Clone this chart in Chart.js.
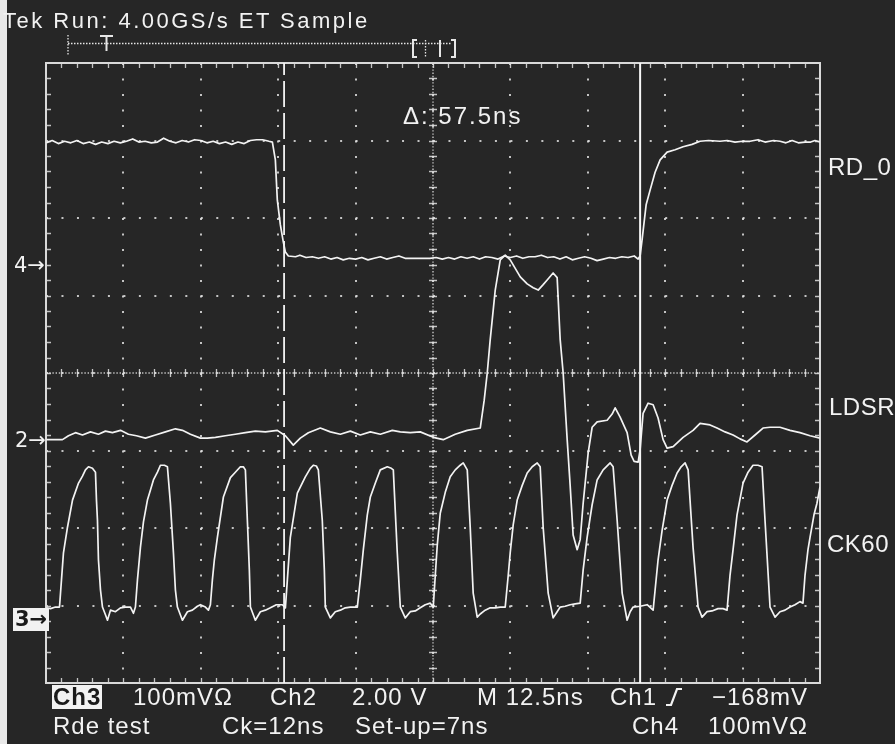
<!DOCTYPE html>
<html><head><meta charset="utf-8">
<script src="https://cdn.jsdelivr.net/npm/chart.js@4.4.1/dist/chart.umd.min.js"></script>
<style>
html,body{margin:0;padding:0;background:#262626;}
#wrap{position:relative;width:895px;height:744px;overflow:hidden;background:#262626;font-family:"Liberation Sans",Arial,sans-serif;color:#f2f2f2;}
#c{position:absolute;left:0;top:0;}
.t{position:absolute;white-space:pre;line-height:1;font-size:24px;letter-spacing:1px;}
.hdr{font-size:22px;letter-spacing:2.5px;}
.inv{background:#f2f2f2;color:#1a1a1a;font-weight:bold;padding:0 1px;height:24px;}
.mk{position:absolute;white-space:pre;line-height:1;font-size:21px;font-family:"DejaVu Sans","Liberation Sans",sans-serif;}
#strip{position:absolute;left:0;top:0;width:7px;height:744px;background:#e9e9e9;}
</style></head>
<body>
<div id="wrap">
<canvas id="c" width="895" height="744"></canvas>
<div id="strip"></div>
<div class="t hdr" style="left:3px;top:10px;">Tek Run: 4.00GS/s ET Sample</div>
<div class="t" style="left:403px;top:104px;letter-spacing:2px;">Δ: 57.5ns</div>
<div class="t" style="left:828px;top:155px;letter-spacing:0.5px;">RD_0</div>
<div class="t" style="left:829px;top:395px;letter-spacing:0.5px;">LDSR</div>
<div class="t" style="left:827px;top:532px;letter-spacing:0.5px;">CK60</div>
<div class="mk" style="left:14px;top:255px;">4→</div>
<div class="mk" style="left:15px;top:430px;">2→</div>
<div class="mk" style="left:13px;top:608px;background:#f2f2f2;color:#1a1a1a;padding:1px 2px;font-weight:bold;">3→</div>
<div class="t inv" style="left:52px;top:685px;">Ch3</div>
<div class="t" style="left:133px;top:685px;">100mVΩ</div>
<div class="t" style="left:270px;top:685px;">Ch2</div>
<div class="t" style="left:352px;top:685px;">2.00 V</div>
<div class="t" style="left:477px;top:685px;">M 12.5ns</div>
<div class="t" style="left:610px;top:685px;">Ch1</div>
<svg style="position:absolute;left:664px;top:686px;" width="20" height="22"><polyline points="2,19 7,19 13,3 18,3" fill="none" stroke="#f2f2f2" stroke-width="2.2"/></svg>
<div class="t" style="left:712px;top:685px;">−168mV</div>
<div class="t" style="left:53px;top:714px;">Rde test</div>
<div class="t" style="left:222px;top:714px;">Ck=12ns</div>
<div class="t" style="left:355px;top:714px;">Set-up=7ns</div>
<div class="t" style="left:632px;top:714px;">Ch4</div>
<div class="t" style="left:708px;top:714px;">100mVΩ</div>
</div>
<script>
// ---- data (time in ns, level in screen divisions) ----
const timeRange = [0, 125];          // 10 div x 12.5 ns
const divRange = [-4, 4];            // 8 vertical divisions
const timeStep = 12.5;
const centerTime = 62.5;
const cursorTimes = [38.45, 95.95];  // Δ = 57.5 ns

const rdTime = [0.08,1,2,3,4,5,6,7,8,9,10,11,12,13,14,15,16,17,18,19,20,21,22,23,24,25,26,27,28,29,30,31,32,33,34,35,36,36.56,
37.04,37.36,37.85,38.33,38.66,39.14,
40.3,41,42,43,44,45,46,47,48,49,50,51,52,53,54,55,56,57,58,59,60,61,62,63,64,65,66,67,68,69,70,71,72,73,74,75,76,77,78,79,80,81,82,83,84,85,86,87,88,89,90,91,92,93,94,95,95.63,
95.95,96.27,96.60,96.92,97.56,98.37,99.18,100.31,101.60,102.89,104.34,
105.63,107,108.86,110,111.28,112.5,113.70,115,116.12,117.5,118.54,119.5,120.5,121.5,122.58,123.5,124.19,125];
const rdLevel = [2.97,3.00,2.96,2.99,2.97,3.00,2.96,2.98,2.95,2.98,2.96,2.99,2.97,2.99,3.02,2.98,2.99,2.97,2.98,3.03,2.99,2.97,3.00,2.98,3.01,3.00,2.97,2.99,2.96,2.98,2.95,2.98,2.96,3.00,3.01,3.01,2.99,2.98,
2.75,2.23,1.91,1.69,1.56,1.51,
1.50,1.52,1.49,1.50,1.48,1.50,1.47,1.49,1.46,1.48,1.47,1.49,1.46,1.48,1.50,1.47,1.49,1.51,1.48,1.48,1.48,1.48,1.48,1.49,1.47,1.49,1.47,1.50,1.48,1.50,1.47,1.50,1.49,1.47,1.51,1.49,1.51,1.48,1.50,1.50,1.52,1.49,1.50,1.47,1.50,1.46,1.48,1.50,1.48,1.45,1.47,1.49,1.48,1.50,1.49,1.51,1.47,
1.51,1.72,1.95,2.17,2.36,2.59,2.75,2.85,2.88,2.92,2.95,
2.99,3.00,2.99,3.00,2.98,2.99,2.99,3.01,2.98,3.00,2.99,2.97,3.00,2.97,2.98,2.98,3.00,2.98];

const ldsrTime = [0.08,1.53,2.66,3.63,4.76,5.89,7.18,8.47,9.60,10.73,12.03,13.31,14.61,16.06,17.67,19.29,20.90,22.03,23.32,24.94,26.06,27.36,28.97,30.58,32.20,33.81,35.43,37.36,38.66,39.94,41.07,42.37,44.30,45.92,47.53,49.15,50.76,52.38,53.99,55.93,57.22,58.83,60.44,62.54,64.15,66.09,68.03,70.13,70.77,71.26,71.74,72.55,73.36,74.16,74.97,75.78,76.59,77.71,78.68,79.49,80.29,80.94,81.90,82.55,83.04,83.52,84.17,84.65,85.13,85.78,86.27,86.75,87.56,88.20,89.01,90.62,91.43,91.92,92.72,93.85,94.50,94.98,95.63,95.95,96.43,97.24,98.05,98.85,99.66,100.31,101.28,102.89,104.50,105.63,107.24,108.37,109.67,110.96,112.09,113.21,114.51,115.80,116.93,118.54,120.16,121.77,123.39,125.00];
const ldsrLevel = [-0.86,-0.86,-0.86,-0.81,-0.77,-0.80,-0.76,-0.79,-0.75,-0.77,-0.74,-0.79,-0.81,-0.84,-0.80,-0.76,-0.72,-0.74,-0.79,-0.84,-0.84,-0.83,-0.81,-0.79,-0.77,-0.75,-0.76,-0.74,-0.81,-0.93,-0.84,-0.77,-0.71,-0.76,-0.79,-0.75,-0.80,-0.76,-0.79,-0.74,-0.76,-0.77,-0.76,-0.83,-0.86,-0.79,-0.74,-0.71,-0.35,0.00,0.43,1.07,1.46,1.52,1.46,1.35,1.24,1.15,1.10,1.07,1.14,1.20,1.29,1.23,0.43,0.00,-0.86,-1.45,-2.09,-2.28,-2.15,-1.68,-1.03,-0.70,-0.63,-0.61,-0.53,-0.45,-0.57,-0.77,-1.06,-1.14,-1.15,-0.99,-0.52,-0.39,-0.41,-0.58,-0.86,-0.97,-0.95,-0.83,-0.74,-0.65,-0.67,-0.71,-0.76,-0.80,-0.85,-0.89,-0.80,-0.71,-0.70,-0.70,-0.74,-0.77,-0.81,-0.84];

const ckTime = [0.08,0.73,1.53,2.18,
2.50,2.82,3.47,4.28,5.25,5.89,6.37,6.86,7.50,7.99,8.15,8.31,8.47,8.80,9.12,9.60,9.93,10.41,11.22,12.03,12.83,13.64,14.12,14.44,
14.77,15.25,15.74,16.38,16.87,17.35,18.00,18.48,19.12,19.61,20.09,20.58,20.90,21.22,22.03,22.84,23.64,24.45,24.94,25.74,26.23,26.55,
26.87,27.19,27.68,28.65,29.78,30.58,31.39,31.87,32.20,32.52,32.84,33.01,33.81,34.62,35.43,36.24,37.20,38.17,38.66,
38.98,39.46,40.59,41.88,42.69,43.17,43.66,43.98,44.62,44.95,45.11,45.92,46.72,47.53,48.34,49.15,50.28,
50.76,51.25,51.89,52.38,53.19,53.99,55.12,55.77,56.09,56.73,57.22,58.02,58.83,59.64,60.44,61.25,62.06,62.54,
62.87,63.19,63.67,64.48,65.28,66.09,66.90,67.38,68.03,68.51,68.99,69.64,70.13,70.93,71.74,72.55,73.36,74.16,
74.65,74.97,75.45,76.10,76.91,77.71,78.52,79.33,79.81,80.29,81.10,81.90,82.55,83.04,83.84,84.65,85.46,86.27,
86.75,87.39,88.20,89.01,89.98,91.11,91.59,92.24,93.05,93.85,94.34,94.82,95.95,97.08,98.05,98.37,
98.85,99.50,100.31,101.11,101.92,102.57,103.21,103.70,104.50,105.31,105.95,106.76,107.56,108.53,109.34,109.99,
110.47,110.96,111.60,112.57,113.38,114.18,114.99,115.64,116.12,116.93,117.74,118.54,119.35,120.16,120.96,121.77,122.25,
122.58,123.06,123.39,124.03,124.51,125.00];
const ckLevel = [-3.03,-3.04,-3.02,-3.02,
-2.67,-2.32,-1.99,-1.64,-1.42,-1.33,-1.25,-1.21,-1.23,-1.28,-1.64,-1.90,-2.41,-2.80,-3.02,-3.12,-3.19,-3.06,-3.08,-3.03,-3.02,-3.02,-3.10,-3.02,
-2.67,-2.25,-1.92,-1.64,-1.51,-1.38,-1.28,-1.19,-1.19,-1.21,-1.68,-2.32,-2.80,-3.02,-3.19,-3.08,-3.06,-3.01,-2.99,-3.02,-3.06,-2.99,
-2.67,-2.41,-2.12,-1.60,-1.35,-1.28,-1.21,-1.21,-1.25,-1.90,-2.54,-3.02,-3.19,-3.08,-3.06,-3.03,-2.99,-2.99,-3.03,
-2.67,-2.12,-1.55,-1.34,-1.23,-1.19,-1.20,-1.25,-1.90,-2.54,-3.02,-3.16,-3.08,-3.06,-3.03,-3.02,-3.02,
-2.67,-2.28,-1.83,-1.60,-1.42,-1.25,-1.21,-1.23,-1.25,-2.32,-3.02,-3.16,-3.08,-3.07,-3.03,-2.99,-2.97,-3.02,
-2.61,-2.22,-1.81,-1.54,-1.34,-1.25,-1.19,-1.16,-1.25,-1.99,-2.84,-3.15,-3.11,-3.06,-3.03,-3.03,-3.02,-3.02,
-2.61,-2.32,-1.96,-1.64,-1.45,-1.29,-1.21,-1.16,-1.21,-1.99,-2.84,-3.16,-3.08,-3.02,-3.01,-2.99,-2.98,-2.97,
-2.54,-2.12,-1.70,-1.38,-1.25,-1.16,-1.21,-1.90,-2.84,-3.19,-3.08,-3.02,-3.01,-2.99,-3.06,-2.80,
-2.41,-2.03,-1.64,-1.45,-1.29,-1.21,-1.16,-1.25,-2.25,-3.02,-3.15,-3.08,-3.07,-3.04,-3.04,-3.06,
-2.61,-2.28,-1.83,-1.42,-1.28,-1.19,-1.19,-1.21,-1.90,-3.02,-3.15,-3.08,-3.06,-3.02,-2.99,-2.95,-2.97,
-2.61,-2.28,-2.12,-1.83,-1.68,-1.47];

// ---- styles ----
const traceColor = '#f3f3f3';
const gridColor = 'rgba(225,225,225,0.85)';
const frameColor = '#d9d9d9';

const pts = (ts, vs) => ts.map((t, i) => ({x: t, y: vs[i]}));
const trace = (label, ts, vs) => ({label, data: pts(ts, vs), borderColor: traceColor, borderWidth: 1.7, pointRadius: 0, tension: 0, fill: false, borderJoinStyle: 'round'});

const scopePlugin = {
  id: 'scope',
  beforeDatasetsDraw(chart) {
    const {ctx, chartArea: a, scales: {x, y}} = chart;
    const cx = x.getPixelForValue(centerTime), cy = y.getPixelForValue(0);
    ctx.save();
    ctx.strokeStyle = gridColor;
    ctx.lineWidth = 1.4;
    ctx.setLineDash([1.4, 1.8]);
    ctx.beginPath();
    ctx.moveTo(cx, a.top); ctx.lineTo(cx, a.bottom);
    ctx.moveTo(a.left, cy); ctx.lineTo(a.right, cy);
    ctx.stroke();
    ctx.setLineDash([]);
    const nx = 50, ny = 40;
    const mx = (x.max - x.min) / nx, my = (y.max - y.min) / ny;
    ctx.lineWidth = 1.3;
    ctx.beginPath();
    for (let i = 1; i < nx; i++) {
      const px = Math.round(x.getPixelForValue(x.min + i * mx)) + 0.5;
      ctx.moveTo(px, cy - 4); ctx.lineTo(px, cy + 4);
      ctx.moveTo(px, a.top); ctx.lineTo(px, a.top + 5);
      ctx.moveTo(px, a.bottom); ctx.lineTo(px, a.bottom - 5);
    }
    for (let j = 1; j < ny; j++) {
      const py = Math.round(y.getPixelForValue(y.min + j * my)) + 0.5;
      ctx.moveTo(cx - 4, py); ctx.lineTo(cx + 4, py);
      ctx.moveTo(a.left, py); ctx.lineTo(a.left + 5, py);
      ctx.moveTo(a.right, py); ctx.lineTo(a.right - 5, py);
    }
    ctx.stroke();
    ctx.lineWidth = 2;
    ctx.strokeStyle = frameColor;
    ctx.strokeRect(a.left, a.top, a.right - a.left, a.bottom - a.top);
    ctx.restore();
  },
  afterDraw(chart) {
    // record-length / trigger position bar above the graticule
    const ctx = chart.ctx;
    ctx.save();
    ctx.strokeStyle = '#e6e6e6';
    ctx.lineWidth = 1.3;
    ctx.setLineDash([1.5, 1.5]);
    ctx.beginPath();
    ctx.moveTo(68, 35); ctx.lineTo(68, 56);
    ctx.moveTo(68, 43.5); ctx.lineTo(452, 43.5);
    ctx.moveTo(425.5, 40); ctx.lineTo(425.5, 57);
    ctx.stroke();
    ctx.setLineDash([]);
    ctx.lineWidth = 2;
    ctx.beginPath();
    ctx.moveTo(100, 36); ctx.lineTo(113, 36);
    ctx.moveTo(106.5, 36); ctx.lineTo(106.5, 51);
    ctx.moveTo(417, 40); ctx.lineTo(413, 40); ctx.lineTo(413, 57); ctx.lineTo(417, 57);
    ctx.moveTo(440, 40); ctx.lineTo(440, 57);
    ctx.moveTo(451, 40); ctx.lineTo(455, 40); ctx.lineTo(455, 57); ctx.lineTo(451, 57);
    ctx.stroke();
    ctx.restore();
  }
};

new Chart(document.getElementById('c'), {
  type: 'line',
  data: {
    datasets: [
      trace('RD_0', rdTime, rdLevel),
      trace('LDSR', ldsrTime, ldsrLevel),
      trace('CK60', ckTime, ckLevel),
      {label: 'cursor 1', data: pts([cursorTimes[0], cursorTimes[0]], divRange), borderColor: '#f3f3f3', borderWidth: 1.8, borderDash: [26, 6], pointRadius: 0},
      {label: 'cursor 2', data: pts([cursorTimes[1], cursorTimes[1]], divRange), borderColor: '#f7f7f7', borderWidth: 2, pointRadius: 0}
    ]
  },
  options: {
    responsive: false,
    animation: false,
    devicePixelRatio: 1,
    events: [],
    layout: {padding: {left: 46, top: 63, right: 75, bottom: 61}},
    plugins: {legend: {display: false}, tooltip: {enabled: false}, title: {display: false}},
    scales: {
      x: {type: 'linear', min: timeRange[0], max: timeRange[1],
          ticks: {display: false, stepSize: timeStep},
          grid: {color: gridColor, lineWidth: 2, drawTicks: false},
          border: {display: false, dash: [2, 13.5]}},
      y: {type: 'linear', min: divRange[0], max: divRange[1],
          ticks: {display: false, stepSize: 1},
          grid: {color: gridColor, lineWidth: 2, drawTicks: false},
          border: {display: false, dash: [2, 13.48]}}
    }
  },
  plugins: [scopePlugin]
});
</script>
</body></html>
